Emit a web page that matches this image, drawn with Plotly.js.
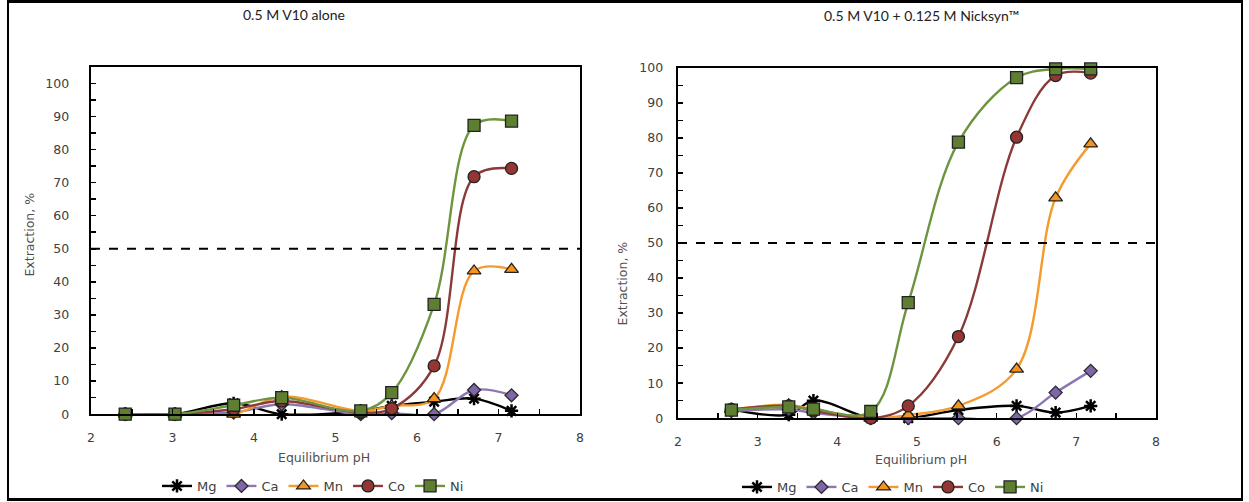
<!DOCTYPE html>
<html>
<head>
<meta charset="utf-8">
<script src="https://cdn.plot.ly/plotly-3.0.1.min.js"></script>
<style>
  html, body { margin: 0; padding: 0; background: #fff; }
  #wrap { position: relative; width: 1249px; height: 502px; }
  #chart { width: 1249px; height: 502px; }
  #frame { position: absolute; left: 7px; top: 0px; width: 1236px; height: 501px;
           border-top: 3px solid #000; border-bottom: 3px solid #000;
           border-left: 2px solid #000; border-right: 2px solid #000;
           box-sizing: border-box; pointer-events: none; }
</style>
</head>
<body>
<div id="wrap"><div id="chart"></div><div id="frame"></div></div>
<script>
// ---- Data: left panel (0.5 M V10 alone) ----
const leftPH = [2.42, 3.03, 3.75, 4.34, 5.31, 5.69, 6.21, 6.70, 7.16];
const leftMg = [0, 0, 3.3, 0, 1.0, 2.5, 3.8, 4.7, 1.0];
const leftCa = [0, 0, 0.5, 3.0, 0, 0.3, 0, 7.3, 5.7];
const leftMn = [0, 0, 0, 5.3, 1.0, 2.5, 4.7, 43.3, 43.8];
const leftCo = [0, 0, 1.5, 4.0, 0.5, 1.7, 14.6, 71.8, 74.3];
const leftNi = [0, 0, 2.7, 5.0, 1.0, 6.5, 33.2, 87.3, 88.6];

// ---- Data: right panel (0.5 M V10 + 0.125 M Nicksyn) ----
const rightPH = [2.67, 3.39, 3.70, 4.42, 4.89, 5.52, 6.25, 6.74, 7.18];
const rightMg = [2.5, 1.0, 5.0, 0, 0, 2.3, 3.5, 1.6, 3.5];
const rightCa = [2.0, 2.5, 1.5, 0, 0, 0, 0, 7.3, 13.5];
const rightMn = [2.5, 3.8, 2.5, 0, 0.9, 3.5, 14.0, 62.9, 78.3];
const rightCo = [2.5, 3.5, 2.2, 0, 3.5, 23.3, 80.2, 97.8, 98.5];
const rightNi = [2.3, 3.2, 2.6, 1.9, 33.0, 78.8, 97.2, 99.7, 99.7];

const metals = ["Mg", "Ca", "Mn", "Co", "Ni"];
const threshold = 50;
const titles = ["0.5 M V10 alone", "0.5 M V10 + 0.125 M Nicksyn\u2122"];
const xTitle = "Equilibrium pH";
const yTitle = "Extraction, %";

// ---- Styles ----
const styles = {
  Mg: {line: "#000000", marker: {symbol: "asterisk-open", size: 11, color: "#000000", line: {color: "#000000", width: 2.5}}},
  Ca: {line: "#8c77b3", marker: {symbol: "diamond", size: 10, color: "#7f66aa", line: {color: "#2a2a2a", width: 1.3}}},
  Mn: {line: "#f59a2c", marker: {symbol: "triangle-up", size: 12, color: "#f7941d", line: {color: "#222222", width: 1.3}}},
  Co: {line: "#8b3a3a", marker: {symbol: "circle", size: 12, color: "#943634", line: {color: "#222222", width: 1.3}}},
  Ni: {line: "#6e9440", marker: {symbol: "square", size: 12, color: "#5e7f32", line: {color: "#222222", width: 1.3}}}
};

const leftSeries = {Mg: leftMg, Ca: leftCa, Mn: leftMn, Co: leftCo, Ni: leftNi};
const rightSeries = {Mg: rightMg, Ca: rightCa, Mn: rightMn, Co: rightCo, Ni: rightNi};

const traces = [];
function addPanel(ph, series, xa, ya, leg) {
  metals.forEach(m => {
    const s = styles[m];
    traces.push({
      type: "scatter", mode: "lines+markers", name: m,
      x: ph, y: series[m], xaxis: xa, yaxis: ya, legend: leg,
      line: {color: s.line, width: 2.4, shape: "spline", smoothing: 1},
      marker: s.marker, cliponaxis: false, showlegend: true
    });
  });
}
addPanel(leftPH, leftSeries, "x", "y", "legend");
addPanel(rightPH, rightSeries, "x2", "y2", "legend2");

const W = 1249, H = 502;
const px = v => v / W;
const py = v => 1 - v / H;

const tickFont = {family: "DejaVu Sans", size: 12.5, color: "#404040"};
const titleFont = {family: "DejaVu Sans", size: 12.5, color: "#505050"};

function xaxisCfg(dom) {
  return {
    domain: dom, range: [2, 8], dtick: 1, tick0: 2, showgrid: false, zeroline: false,
    showline: true, mirror: true, linecolor: "#000", linewidth: 2.3,
    ticks: "inside", ticklen: 5, tickwidth: 1.5, tickcolor: "#000",
    minor: {dtick: 0.5, ticks: "inside", ticklen: 5, tickwidth: 1.5, tickcolor: "#000", showgrid: false},
    tickfont: tickFont, ticklabelstandoff: 11, fixedrange: true
  };
}
function yaxisCfg(dom, top, anchor, standoff) {
  return {
    domain: dom, range: [0, top], dtick: 10, tick0: 0, showgrid: false, zeroline: false,
    showline: true, mirror: true, linecolor: "#000", linewidth: 2.3,
    ticks: "inside", ticklen: 5, tickwidth: 1.5, tickcolor: "#000",
    minor: {dtick: 5, ticks: "inside", ticklen: 5, tickwidth: 1.5, tickcolor: "#000", showgrid: false},
    tickfont: tickFont, ticklabelstandoff: standoff, anchor: anchor, fixedrange: true
  };
}

const legendFont = {family: "DejaVu Sans", size: 13, color: "#404040"};

const layout = {
  width: W, height: H,
  margin: {l: 0, r: 0, t: 0, b: 0},
  paper_bgcolor: "#fff", plot_bgcolor: "#fff",
  showlegend: true,
  xaxis: Object.assign(xaxisCfg([px(91), px(580)]), {anchor: "y"}),
  yaxis: yaxisCfg([py(415), py(67)], 105, "x", 17),
  xaxis2: Object.assign(xaxisCfg([px(678), px(1156)]), {anchor: "y2"}),
  yaxis2: yaxisCfg([py(419), py(68)], 100, "x2", 10),
  legend: {orientation: "h", x: px(313), y: py(486), xanchor: "center", yanchor: "middle",
           font: legendFont, itemwidth: 30, bgcolor: "rgba(0,0,0,0)"},
  legend2: {orientation: "h", x: px(893), y: py(488), xanchor: "center", yanchor: "middle",
           font: legendFont, itemwidth: 30, bgcolor: "rgba(0,0,0,0)"},
  shapes: [
    {type: "line", xref: "x domain", yref: "y", x0: 0, x1: 1, y0: threshold, y1: threshold,
     line: {color: "#000", width: 2, dash: "dash"}},
    {type: "line", xref: "x2 domain", yref: "y2", x0: 0, x1: 1, y0: threshold, y1: threshold,
     line: {color: "#000", width: 2, dash: "dash"}}
  ],
  annotations: [
    {text: titles[0], xref: "paper", yref: "paper", x: px(294), y: py(15), showarrow: false,
     xanchor: "center", yanchor: "middle", font: {family: "Lato", size: 14, color: "#222"}},
    {text: titles[1], xref: "paper", yref: "paper", x: px(921), y: py(16), showarrow: false,
     xanchor: "center", yanchor: "middle", font: {family: "Lato", size: 14, color: "#222"}},
    {text: yTitle, xref: "paper", yref: "paper", x: px(30), y: py(235), showarrow: false, textangle: -90,
     xanchor: "center", yanchor: "middle", font: titleFont},
    {text: yTitle, xref: "paper", yref: "paper", x: px(622), y: py(284), showarrow: false, textangle: -90,
     xanchor: "center", yanchor: "middle", font: titleFont},
    {text: xTitle, xref: "paper", yref: "paper", x: px(324), y: py(458), showarrow: false,
     xanchor: "center", yanchor: "middle", font: titleFont},
    {text: xTitle, xref: "paper", yref: "paper", x: px(921), y: py(460), showarrow: false,
     xanchor: "center", yanchor: "middle", font: titleFont}
  ]
};

Plotly.newPlot("chart", traces, layout, {displayModeBar: false, staticPlot: true});
</script>
</body>
</html>
